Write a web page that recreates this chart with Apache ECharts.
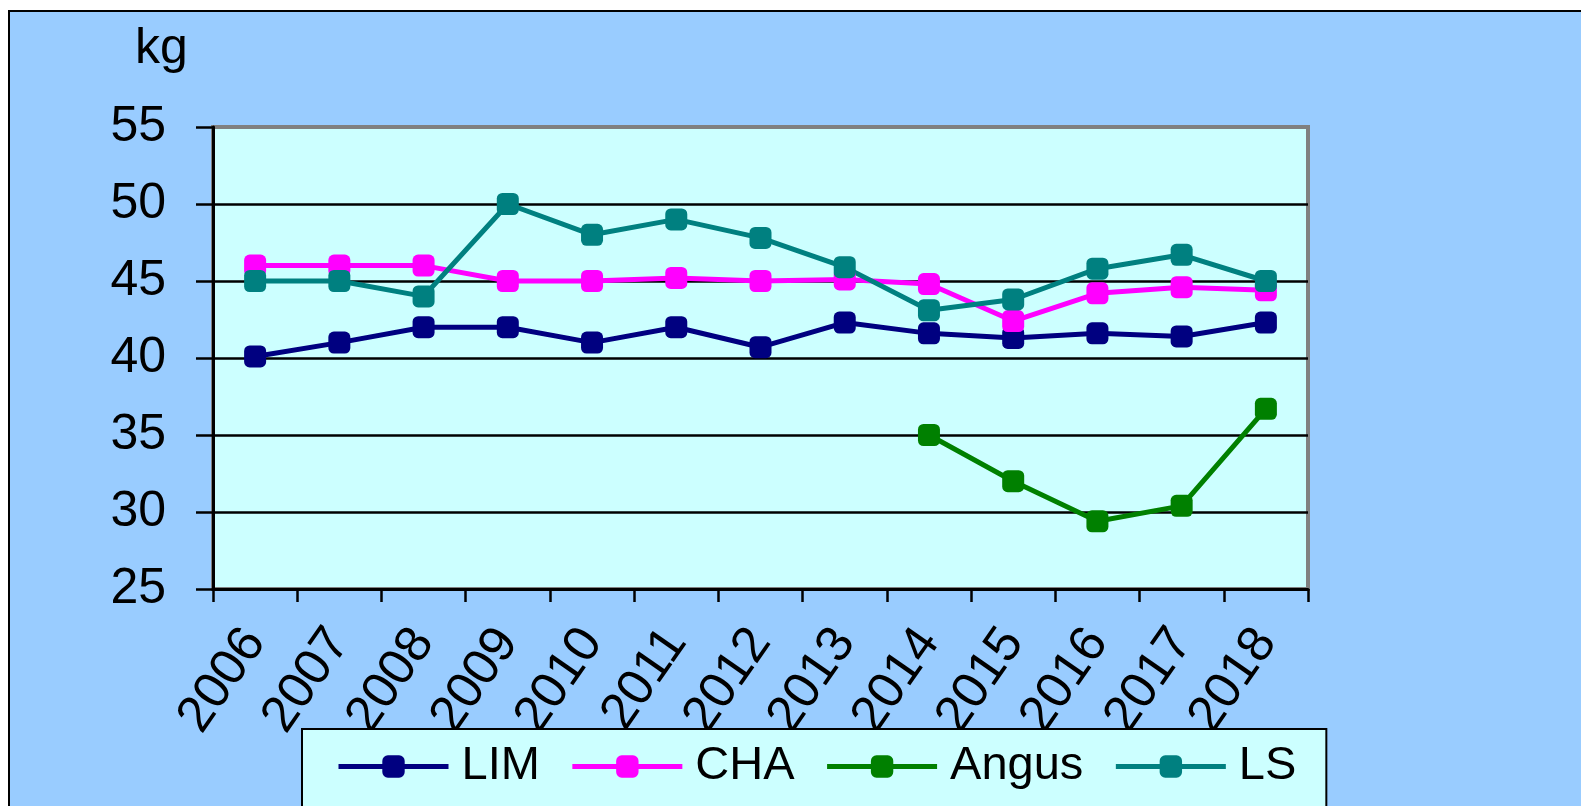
<!DOCTYPE html>
<html>
<head>
<meta charset="utf-8">
<script src="https://cdn.jsdelivr.net/npm/echarts@6/dist/echarts.min.js"></script>
<style>
  html, body { margin: 0; padding: 0; background: #fff; overflow: hidden; }
  #frame { position: absolute; left: 8px; top: 10px; width: 1700px; height: 900px;
           border: 2px solid #000; background: #99CCFF; }
  #main { position: absolute; left: 0; top: 0; width: 1581px; height: 806px; }
</style>
</head>
<body>
<div id="frame"></div>
<div id="main"></div>
<script>
// 年份
const years = ['2006', '2007', '2008', '2009', '2010', '2011', '2012', '2013', '2014', '2015', '2016', '2017', '2018'];
// kg values
const lim   = [40.1, 41.0, 42.0, 42.0, 41.0, 42.0, 40.7, 42.3, 41.6, 41.3, 41.6, 41.4, 42.3];
const cha   = [46.0, 46.0, 46.0, 45.0, 45.0, 45.2, 45.0, 45.1, 44.8, 42.4, 44.2, 44.6, 44.4];
const angus = [null, null, null, null, null, null, null, null, 35.0, 32.0, 29.4, 30.4, 36.7];
const ls    = [45.0, 45.0, 44.0, 50.0, 48.0, 49.0, 47.8, 45.9, 43.1, 43.8, 45.8, 46.7, 45.0];

const font = 'Liberation Sans';

function line(name, data, color) {
  return {
    name: name,
    type: 'line',
    data: data,
    symbol: 'roundRect',
    symbolSize: 22,
    lineStyle: { color: color, width: 5 },
    itemStyle: { color: color },
    connectNulls: false
  };
}

const chart = echarts.init(document.getElementById('main'));
const option = {
  animation: false,
  backgroundColor: 'transparent',
  graphic: [{
    type: 'text',
    left: 135,
    top: 24,
    style: { text: 'kg', fill: '#000', font: '50px "' + font + '"' }
  }],
  grid: {
    left: 213, top: 127, width: 1095, height: 462,
    show: true,
    backgroundColor: '#CCFFFF',
    borderColor: '#808080',
    borderWidth: 4
  },
  legend: {
    left: 302, top: 729,
    backgroundColor: '#CCFFFF',
    borderColor: '#000',
    borderWidth: 2,
    padding: [14, 30, 60, 34],
    itemWidth: 110,
    itemHeight: 28,
    itemGap: 30,
    lineStyle: { width: 5 },
    textStyle: { fontFamily: font, fontSize: 47, color: '#000', padding: [0, 0, 0, 8] },
    data: ['LIM', 'CHA', 'Angus', 'LS']
  },
  xAxis: {
    type: 'category',
    data: years,
    boundaryGap: true,
    axisLine: { lineStyle: { color: '#000', width: 3 } },
    axisTick: { show: true, interval: 0, length: 13, lineStyle: { color: '#000', width: 2.5 } },
    axisLabel: { interval: 0, rotate: 55, margin: 45, fontFamily: font, fontSize: 51, color: '#000' },
    splitLine: { show: false }
  },
  yAxis: {
    type: 'value',
    min: 25, max: 55, interval: 5,
    axisLine: { show: true, lineStyle: { color: '#000', width: 3 } },
    axisTick: { show: true, length: 17, lineStyle: { color: '#000', width: 2.5 } },
    axisLabel: { margin: 47, fontFamily: font, fontSize: 50, color: '#000' },
    splitLine: { show: true, showMinLine: false, showMaxLine: false, lineStyle: { color: '#000', width: 2.5 } }
  },
  series: [
    line('LIM', lim, '#000080'),
    line('CHA', cha, '#FF00FF'),
    line('Angus', angus, '#008000'),
    line('LS', ls, '#008080')
  ]
};
chart.setOption(option);
</script>
</body>
</html>
